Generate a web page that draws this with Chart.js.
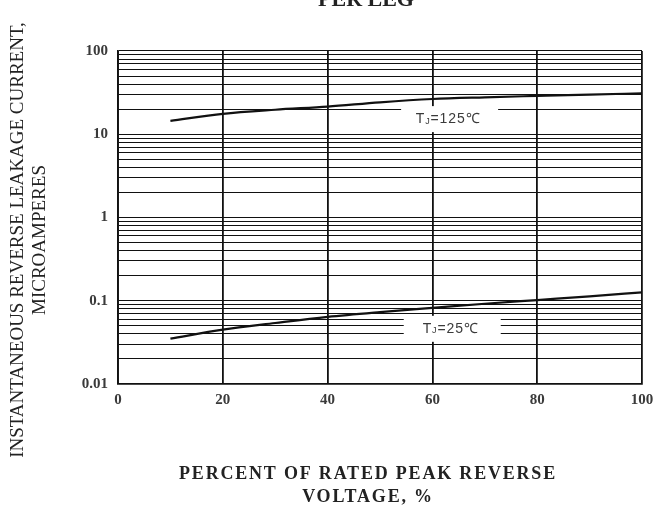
<!DOCTYPE html>
<html>
<head>
<meta charset="utf-8">
<script src="https://cdn.jsdelivr.net/npm/chart.js@4"></script>
<style>
  html, body { margin: 0; padding: 0; background: #fff; }
  #wrap { width: 662px; height: 510px; position: relative; }
</style>
</head>
<body>
<div id="wrap"><canvas id="c" width="662" height="510"></canvas></div>
<script>
// ---- data ----
const xValues = [10, 20, 30, 40, 50, 60, 70, 80, 90, 100];
const tj125 = [14.5, 17.6, 19.7, 21.5, 24.2, 26.5, 27.8, 28.9, 30.0, 31.0];
const tj25  = [0.035, 0.045, 0.054, 0.064, 0.073, 0.082, 0.092, 0.102, 0.113, 0.126];
const xTicks = [0, 20, 40, 60, 80, 100];
const yDecades = [0.01, 0.1, 1, 10, 100];
const yTickLabels = ['0.01', '0.1', '1', '10', '100'];
const curveLabels = [
  { main: 'T', sub: 'J', rest: '=125\u2103', x: 63, y: 15.2 },
  { main: 'T', sub: 'J', rest: '=25\u2103', x: 63.5, y: 0.046 }
];
const chartTitle = 'PER LEG';
const xTitle = ['PERCENT OF RATED PEAK REVERSE', 'VOLTAGE, %'];
const yTitle = ['INSTANTANEOUS REVERSE LEAKAGE CURRENT,', 'MICROAMPERES'];

const serif = '"Liberation Serif", "DejaVu Serif", serif';
const sans = '"Liberation Sans", Arial, sans-serif';

const pts = (ys) => xValues.map((x, i) => ({ x: x, y: ys[i] }));

const overlay = {
  id: 'overlay',
  afterDatasetsDraw(chart) {
    const ctx = chart.ctx;
    const xs = chart.scales.x, ys = chart.scales.y;
    ctx.save();
    curveLabels.forEach(l => {
      const cx = xs.getPixelForValue(l.x);
      const cy = ys.getPixelForValue(l.y);
      ctx.fillStyle = '#fff';
      ctx.fillRect(cx - 47, cy - 13, 97, 26);
      ctx.letterSpacing = '0.9px';
      ctx.font = '14px ' + sans;
      const wT = ctx.measureText(l.main).width;
      ctx.font = '9px ' + sans;
      const wJ = ctx.measureText(l.sub).width;
      ctx.font = '14px ' + sans;
      const wR = ctx.measureText(l.rest).width;
      let x0 = cx - (wT + wJ + wR) / 2;
      ctx.fillStyle = '#3a3a3a';
      ctx.textBaseline = 'middle';
      ctx.textAlign = 'left';
      ctx.fillText(l.main, x0, cy);
      ctx.font = '9px ' + sans;
      ctx.fillText(l.sub, x0 + wT, cy + 2);
      ctx.font = '14px ' + sans;
      ctx.fillText(l.rest, x0 + wT + wJ, cy);
    });
    ctx.letterSpacing = '0px';
    // top title (cut off in the reference)
    ctx.font = 'bold 22px ' + serif;
    ctx.fillStyle = '#222';
    ctx.textAlign = 'center';
    ctx.textBaseline = 'alphabetic';
    ctx.fillText(chartTitle, 366, 6);
    // x axis title
    ctx.font = 'bold 18px ' + serif;
    ctx.letterSpacing = '1.8px';
    ctx.textBaseline = 'middle';
    ctx.fillText(xTitle[0], 368, 474);
    ctx.fillText(xTitle[1], 368, 497);
    ctx.letterSpacing = '0px';
    // y axis title
    ctx.save();
    ctx.translate(18, 240);
    ctx.rotate(-Math.PI / 2);
    ctx.font = '19px ' + serif;
    ctx.fillStyle = '#222';
    ctx.fillText(yTitle[0], 0, 0);
    ctx.fillText(yTitle[1], 0, 22);
    ctx.restore();
    ctx.restore();
  }
};

new Chart(document.getElementById('c'), {
  type: 'line',
  data: {
    datasets: [
      { label: 'TJ=125\u2103', data: pts(tj125), borderColor: '#111', borderWidth: 2.2, pointRadius: 0, cubicInterpolationMode: 'monotone', fill: false },
      { label: 'TJ=25\u2103', data: pts(tj25), borderColor: '#111', borderWidth: 2.2, pointRadius: 0, cubicInterpolationMode: 'monotone', fill: false }
    ]
  },
  options: {
    responsive: false,
    animation: false,
    devicePixelRatio: 1,
    layout: { padding: { left: 0, right: 20, top: 51, bottom: 0 } },
    plugins: { legend: { display: false }, tooltip: { enabled: false }, title: { display: false } },
    scales: {
      x: {
        type: 'linear', min: 0, max: 100,
        afterBuildTicks: (s) => { s.ticks = xTicks.map(v => ({ value: v })); },
        afterFit: (s) => { s.height = 126; },
        ticks: { color: '#3a3a3a', font: { family: serif, size: 15, weight: 'bold' }, padding: 7, maxRotation: 0, autoSkip: false },
        grid: { color: '#111', lineWidth: 1.8, drawTicks: false },
        border: { color: '#111', width: 1.8 },
        title: { display: false }
      },
      y: {
        type: 'logarithmic', min: 0.01, max: 100,
        afterBuildTicks: (s) => {
          const t = [];
          yDecades.forEach((d, i) => {
            if (i === yDecades.length - 1) { t.push({ value: d }); return; }
            for (let m = 1; m <= 9; m++) t.push({ value: d * m });
          });
          s.ticks = t;
        },
        afterFit: (s) => { s.width = 118; },
        ticks: {
          autoSkip: false,
          color: '#3a3a3a',
          font: { family: serif, size: 15, weight: 'bold' },
          padding: 10,
          callback: (v) => {
            const i = yDecades.findIndex(d => Math.abs(d - v) / d < 1e-6);
            return i >= 0 ? yTickLabels[i] : '';
          }
        },
        grid: { color: '#111', lineWidth: 1.1, drawTicks: false },
        border: { color: '#111', width: 1.8 }
      }
    }
  },
  plugins: [overlay]
});
</script>
</body>
</html>
